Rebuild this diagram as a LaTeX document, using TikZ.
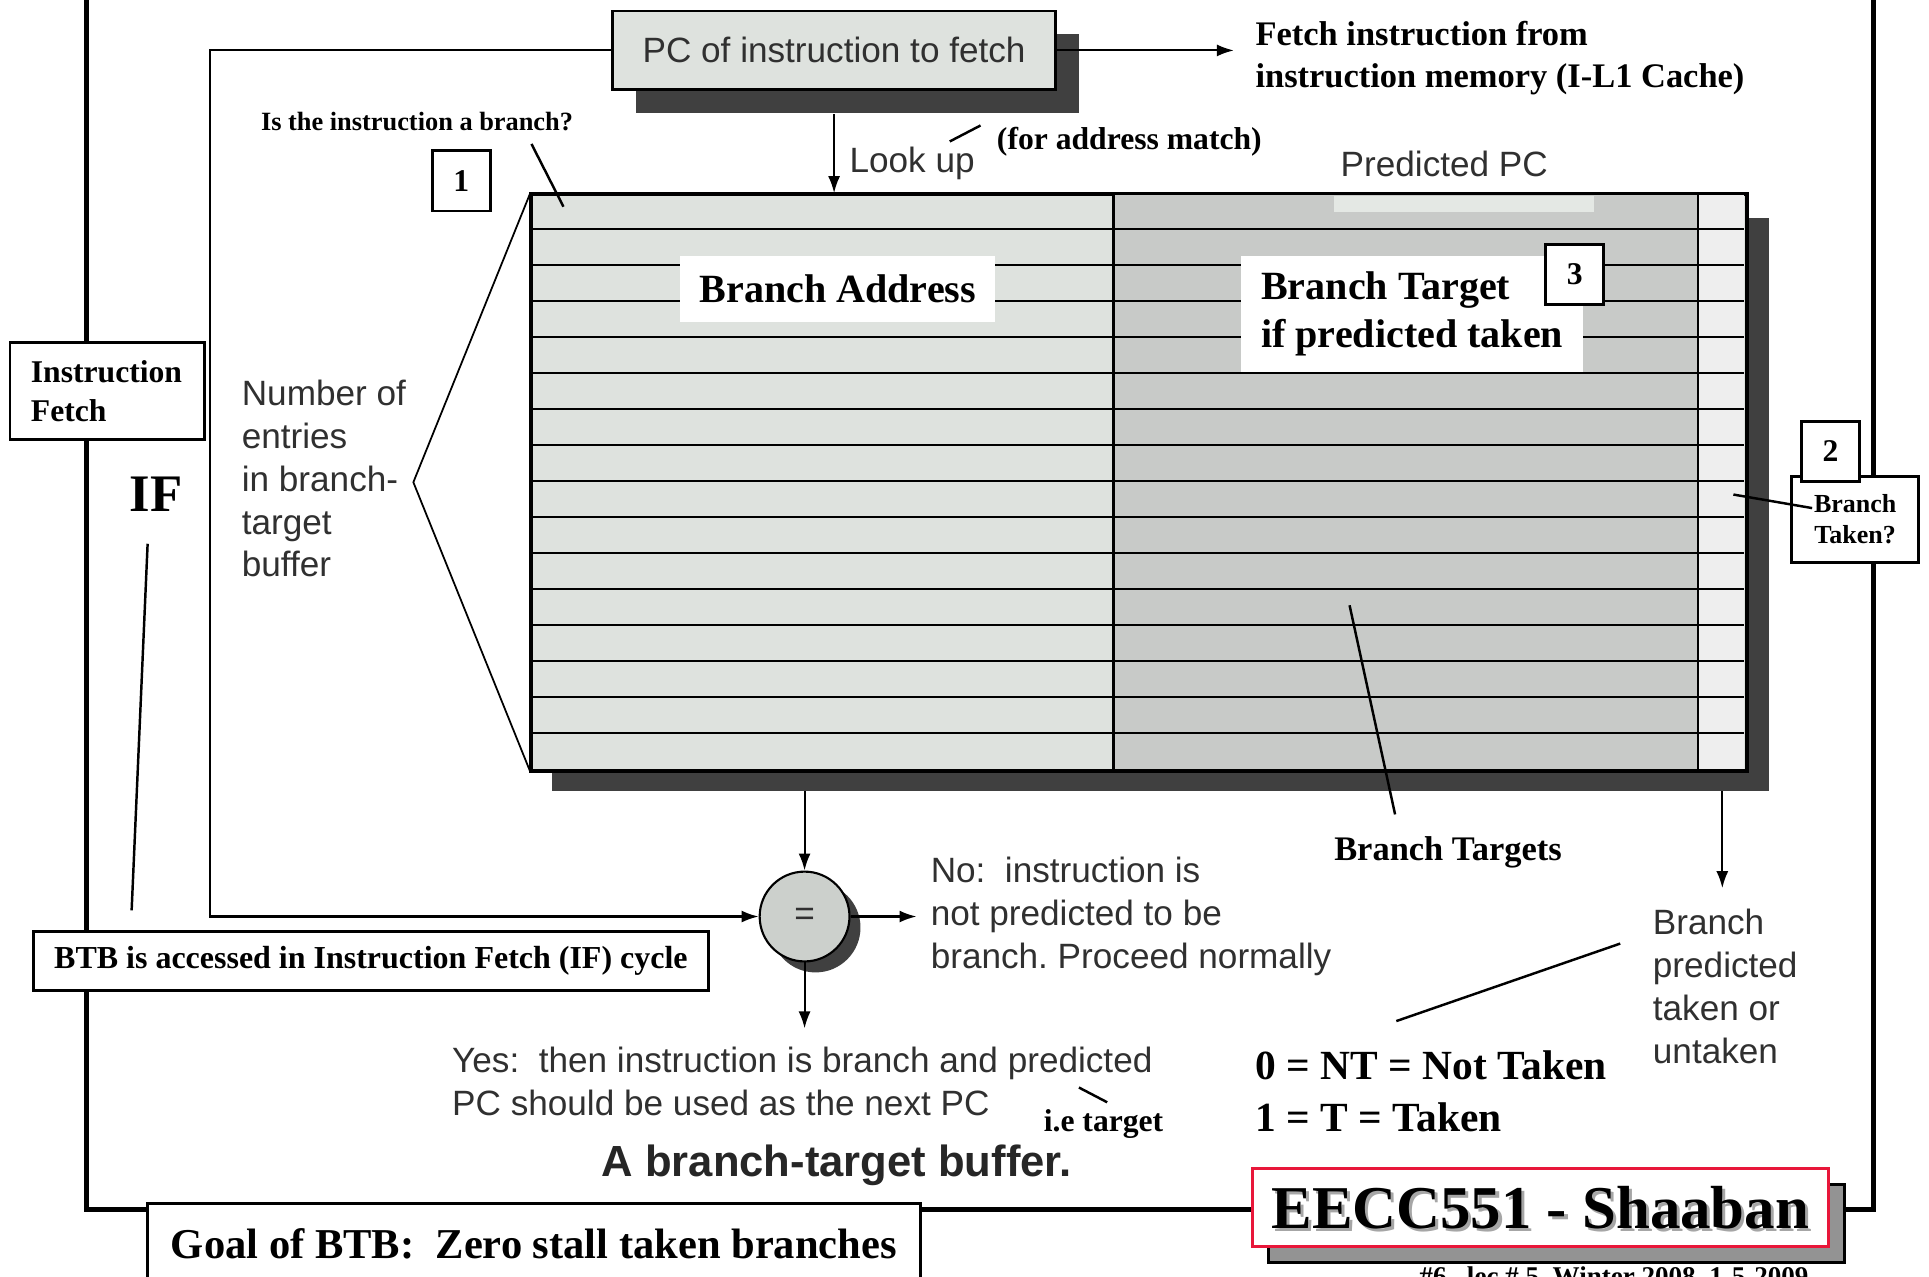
\documentclass[tikz,border=0pt]{standalone}
\usepackage{fontspec}
\setmainfont{Liberation Serif}
\setsansfont{Liberation Sans}
\usetikzlibrary{positioning, arrows.meta, shadows}
\frenchspacing

\definecolor{cellA}{HTML}{DEE2DE}
\definecolor{cellB}{HTML}{C8CAC8}
\definecolor{cellC}{HTML}{EEEEEE}
\definecolor{shdw}{HTML}{404040}
\definecolor{txtgray}{HTML}{303030}
\definecolor{eeccred}{HTML}{E8173A}
\newcommand{\pxu}{0.123mm}
\newcommand{\tsz}[2]{\bfseries\fontsize{#1}{#2}\selectfont}

\tikzset{
  tnote/.style={inner sep=0pt, align=left},
  hnote/.style={inner sep=0pt, align=left, text=txtgray, font=\sffamily\fontsize{10}{12.2}\selectfont},
  wbox/.style={draw, fill=white, line width=0.8pt, inner sep=0pt},
  numbox/.style={wbox, minimum width=5.78mm, minimum height=6.03mm, font=\tsz{9}{11}},
  flow/.style={-{Latex[length=1.7mm, width=1.2mm]}, line width=0.6pt},
  pointer/.style={line width=0.7pt},
  frame/.style={line width=1.4pt},
}

\begin{document}
\begin{tikzpicture}[x=\pxu, y=-\pxu]
\useasboundingbox (0,0) rectangle (1568,1038);
\clip (0,0) rectangle (1568,1038);

% outer frame
\draw[frame] (70,-10) -- (70,983) -- (1523,983) -- (1523,-10);

% PC box
\node[draw, fill=cellA, line width=0.8pt, minimum width=44.28mm, minimum height=7.87mm,
  drop shadow={shadow xshift=2.3mm, shadow yshift=-2.3mm, fill=shdw, opacity=1},
  font=\sffamily\fontsize{10}{12}\selectfont, text=txtgray] (pc) at (678,41) {PC of instruction to fetch};

% fetch from memory
\node[tnote, font=\tsz{9.8}{11.9}, anchor=west] (fetch) at (1020,47) {Fetch instruction from\\instruction memory (I-L1 Cache)};
\coordinate (fetchin) at (1003,41);
\draw[flow] (pc.east) -- (fetchin);

% table, shadow and columns
\fill[shdw] (449,177) rectangle (1438,643);
\node[draw, fill=cellA, line width=0.8pt, inner sep=0pt, anchor=north west,
  minimum width=121.4mm, minimum height=57.56mm] (btb) at (431,157) {};
\fill[cellB] (905,157) rectangle (1380,625);
\fill[cellC] (1380,157) rectangle (1418,625);
\fill[cellA!80!white] (1084,159) rectangle (1296,172);
\foreach \r in {1,...,15}
  \draw[line width=0.7pt] (431,{157+\r*29.25}) -- (1418,{157+\r*29.25});
\draw[line width=0.7pt] (905,157) -- (905,625) (1380,157) -- (1380,625);
\draw[line width=0.8pt] (btb.north west) rectangle (btb.south east);

% look up
\draw[flow] ([yshift=-2.3mm]pc.south) -- (pc.south |- btb.north);
\node[hnote, anchor=west] (lookup) at (690,133) {Look up};
\node[tnote, font=\tsz{9}{11}] (match) at (918,115) {(for address match)};
\draw[pointer] (772,115) -- (797,102);
\node[hnote] (predpc) at (1174,133) {Predicted PC};
\node[tnote, font=\tsz{7.5}{9}] (isbr) at (339,99) {Is the instruction a branch?};
\draw[pointer] (432,117) -- (458,168);
\node[numbox] (one) at (375,147) {1};

% labels in the table
\node[wbox, draw=none, minimum width=31.49mm, minimum height=6.64mm, font=\tsz{11.4}{13.6}] (baddr) at (681,235) {Branch Address};
\node[wbox, draw=none, anchor=west, inner xsep=1.97mm, minimum height=11.56mm, align=left,
  font=\tsz{11.4}{13.6}] (btgt) at (1008,255) {Branch Target\\if predicted taken};
\node[numbox] (three) at (1280,223) {3};

% number of entries
\node[hnote, anchor=west] (nent) at (196,389) {Number of\\entries\\in branch-\\target\\buffer};
\draw[line width=0.5pt] (btb.north west) -- (336,392) -- (btb.south west);

% instruction fetch stage
\node[wbox, anchor=west, text width=15.25mm, inner xsep=2.09mm, minimum height=9.72mm, align=left,
  font=\tsz{9}{11.2}] (ifbox) at (7,318) {Instruction\\Fetch};
\node[tnote, font=\tsz{15}{18}] (ifname) at (127,402) {IF};
\draw[pointer] (120,442) -- (107,740);
\node[wbox, minimum width=67.53mm, minimum height=5.9mm, font=\tsz{9.1}{11}] (btbif) at (301.5,781) {BTB is accessed in Instruction Fetch (IF) cycle};

% compare
\node[circle, draw, fill=cellA!92!black, minimum size=8.98mm, inner sep=0pt, line width=0.6pt,
  drop shadow={shadow xshift=1.1mm, shadow yshift=-1.1mm, fill=shdw, opacity=1},
  font=\sffamily\fontsize{10}{12}\selectfont, text=txtgray] (eq) at (654,745) {=};
\coordinate (btbout) at (654,643);
\draw[flow] (btbout) -- (eq.north);
\coordinate (fbcorner) at (171,745);
\draw[flow] (pc.west) -| (fbcorner) -- (eq.west);

% no / yes
\node[hnote, anchor=west] (nonote) at (756,745) {No:\ \ instruction is\\not predicted to be\\branch. Proceed normally};
\coordinate (noin) at (745,745);
\draw[flow] (eq.east) -- (noin);
\coordinate (yesin) at (654,836);
\draw[flow] (eq.south) -- (yesin);
\node[hnote, anchor=west] (yesnote) at (367,879) {Yes:\ \ then instruction is branch and predicted\\PC should be used as the next PC};
\node[tnote, font=\tsz{9}{11}] (iet) at (897,914) {i.e target};
\draw[pointer] (877,884) -- (900,896);
\node[inner sep=0pt, text=black!85, font=\sffamily\bfseries\fontsize{12.4}{14}\selectfont] (capt) at (680,947) {A branch-target buffer.};

% targets and prediction bit
\node[tnote, font=\tsz{9.8}{12}] (tgts) at (1177,693) {Branch Targets};
\draw[pointer] (1097,492) -- (1134,662);
\coordinate (bitout) at (1400,643);
\coordinate (bitin) at (1400,722);
\draw[flow] (bitout) -- (bitin);
\node[hnote, anchor=west] (bpred) at (1343,802) {Branch\\predicted\\taken or\\untaken};
\node[tnote, anchor=west, font=\tsz{11.8}{14.7}] (ntt) at (1020,887) {0 = NT = Not Taken\\1 = T = Taken};
\draw[pointer] (1135,830) -- (1317,767);

% branch taken? 2
\node[wbox, minimum width=12.67mm, minimum height=8.61mm, align=center, font=\tsz{7.4}{9.1}] (tkn) at (1508,422) {Branch\\Taken?};
\draw[pointer] (1409,402) -- (1473,413);
\node[numbox] (two) at (1488,367) {2};

% goal box
\node[wbox, minimum width=77.24mm, minimum height=8.12mm, font=\tsz{12.1}{14}] (goal) at (434,1011) {Goal of BTB:\ \ Zero stall taken branches};

% course box
\node[draw=eeccred, fill=white, line width=0.9pt, minimum width=57.56mm, minimum height=7.75mm, inner sep=0pt,
  drop shadow={shadow xshift=1.6mm, shadow yshift=-1.6mm, fill=gray!85, draw=black, opacity=1}] (eecc) at (1252,981.5) {};
\node[inner sep=0pt, text=gray!70, font=\tsz{17.3}{20}] (eeccsh) at ([shift={(2.5,2.5)}]eecc.center) {EECC551 - Shaaban};
\node[inner sep=0pt, font=\tsz{17.3}{20}] (eecct) at (eecc.center) {EECC551 - Shaaban};
\node[tnote, font=\tsz{7.7}{9}, anchor=base] (foot) at (1312,1045) {\#6\ \ \ lec \# 5\ \ Winter 2008\ \ 1-5-2009};
\end{tikzpicture}
\end{document}
